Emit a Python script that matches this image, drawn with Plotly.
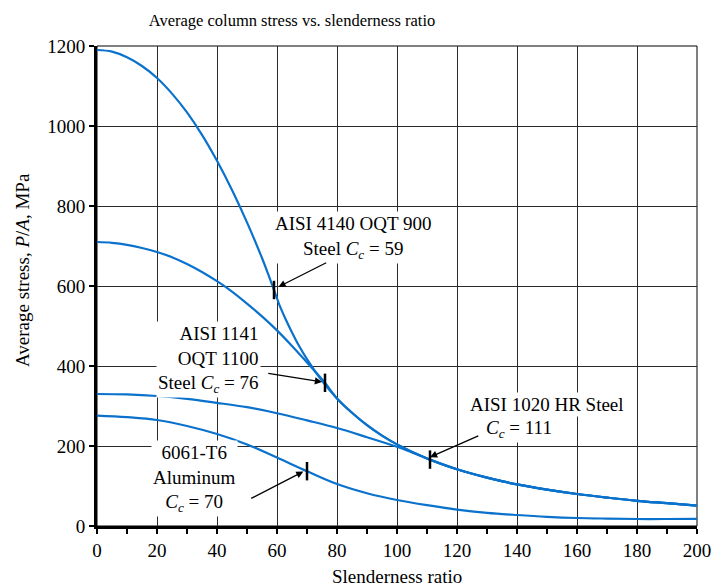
import plotly.graph_objects as go

# ---- data ----
slenderness_4140 = [0, 5, 10, 15, 20, 25, 30, 35, 40, 45, 50, 55, 57, 59, 61, 63, 65, 67, 70, 75, 80, 85,
                    90, 95, 100, 110, 120, 130, 140, 150, 160, 170, 180, 190, 200]
stress_4140 = [1190, 1186, 1172, 1150, 1120, 1081, 1034, 978, 913, 840, 759, 670, 631, 590, 549, 515,
               484, 455, 417, 363, 319, 283, 252, 226, 204, 169, 142, 121, 104, 91, 80, 71, 63, 57, 51]

slenderness_1141 = [0, 5, 10, 15, 20, 25, 30, 35, 40, 45, 50, 55, 60, 65, 70, 73, 76, 80, 85, 90, 95, 100,
                    110, 120, 130, 140, 150, 160, 170, 180, 190, 200]
stress_1141 = [710, 708, 703, 695, 685, 672, 655, 635, 612, 586, 556, 524, 489, 450, 409, 384, 358, 319,
               283, 252, 226, 204, 169, 142, 121, 104, 91, 80, 71, 63, 57, 51]

slenderness_1020 = [0, 10, 20, 30, 40, 50, 60, 70, 80, 90, 100, 105, 111,
                    120, 130, 140, 150, 160, 170, 180, 190, 200]
stress_1020 = [330, 329, 325, 318, 308, 297, 282, 264, 245, 222, 198, 184, 166,
               142, 121, 104, 91, 80, 71, 63, 57, 51]

slenderness_6061 = [0, 10, 20, 30, 40, 50, 60, 70, 80, 90, 100, 110, 120, 130, 140, 150,
                    160, 170, 180, 190, 200]
stress_6061 = [276, 272, 265, 250, 230, 204, 171, 137, 105, 82, 65, 52, 41, 33, 27.5, 23,
               20, 18.5, 17.5, 17.5, 18]

cc_values = [59, 76, 111, 70]
cc_stress = [590, 358, 166, 137]

x_ticks = [0, 20, 40, 60, 80, 100, 120, 140, 160, 180, 200]
y_ticks = [0, 200, 400, 600, 800, 1000, 1200]

BLUE = "#0a72cc"
FONT = "Liberation Serif"

fig = go.Figure()
for xs, ys in [(slenderness_4140, stress_4140), (slenderness_1141, stress_1141),
               (slenderness_1020, stress_1020), (slenderness_6061, stress_6061)]:
    fig.add_trace(go.Scatter(x=xs, y=ys, mode="lines",
                             line=dict(color=BLUE, width=2.2, shape="spline", smoothing=1.0),
                             hoverinfo="skip"))

# Cc tick marks on the curves
for cx, cy in zip(cc_values, cc_stress):
    fig.add_shape(type="line", xref="x", yref="y", x0=cx, x1=cx, y0=cy - 23, y1=cy + 23,
                  line=dict(color="black", width=2.5), layer="above")

# thin top/right frame
fig.add_shape(type="rect", xref="paper", yref="paper", x0=0, x1=1, y0=0, y1=1,
              line=dict(color="black", width=1), layer="below")

ann_font = dict(family=FONT, size=19, color="black")
labels = [
    dict(x=85.4, y=722, text="AISI 4140 OQT 900<br>Steel <i>C<sub>c</sub></i> = 59",
         xanchor="center", yanchor="middle", align="center"),
    dict(x=54.5, y=417, text="AISI 1141<br>OQT 1100<br>Steel <i>C<sub>c</sub></i> = 76",
         xanchor="right", yanchor="middle", align="right"),
    dict(x=150, y=305, text="AISI 1020 HR Steel", xanchor="center", yanchor="middle", align="center"),
    dict(x=140.6, y=242, text="<i>C<sub>c</sub></i> = 111", xanchor="center", yanchor="middle", align="center"),
    dict(x=32.4, y=118, text="6061-T6<br>Aluminum<br><i>C<sub>c</sub></i> = 70",
         xanchor="center", yanchor="middle", align="center"),
]
for lab in labels:
    fig.add_annotation(xref="x", yref="y", showarrow=False, font=ann_font,
                       bgcolor="white", borderpad=1, **lab)

arrows = [
    ((60.5, 598), (76.9, 660)),
    ((75.0, 360), (56.6, 382)),
    ((111.0, 172), (127.6, 227)),
    ((68.8, 136), (50.9, 67)),
]
for (hx, hy), (tx, ty) in arrows:
    fig.add_annotation(x=hx, y=hy, ax=tx, ay=ty, xref="x", yref="y", axref="x", ayref="y",
                       text="", showarrow=True, arrowhead=2, arrowsize=1.1, arrowwidth=1.3,
                       arrowcolor="black", standoff=0, startstandoff=0)

# axis titles
fig.add_annotation(xref="paper", yref="paper", x=(397 - 97) / 600, y=(526 - 576) / 480,
                   text="Slenderness ratio", showarrow=False, font=ann_font,
                   xanchor="center", yanchor="middle")
fig.add_annotation(xref="paper", yref="paper", x=(22 - 97) / 600, y=(526 - 270) / 480,
                   text="Average stress, <i>P</i>/<i>A</i>, MPa", showarrow=False, font=ann_font,
                   textangle=-90, xanchor="center", yanchor="middle")

axis_common = dict(showgrid=True, gridcolor="#2a2a2a", gridwidth=1, showline=True,
                   linecolor="black", linewidth=3, ticks="outside", ticklen=5, tickwidth=2,
                   tickcolor="black", zeroline=False, mirror=False, automargin=False,
                   tickfont=dict(family=FONT, size=19, color="black"))

fig.update_xaxes(range=[0, 200], tickvals=x_ticks,
                 minor=dict(dtick=10, tick0=0, ticks="outside", ticklen=5, tickwidth=2,
                            tickcolor="black", showgrid=False),
                 **axis_common)
fig.update_yaxes(range=[0, 1200], tickvals=y_ticks, **axis_common)

fig.update_layout(
    width=712, height=588,
    margin=dict(l=97, r=15, t=46, b=62, autoexpand=False),
    plot_bgcolor="white", paper_bgcolor="white",
    showlegend=False,
    font=dict(family=FONT, color="black"),
    title=dict(text="Average column stress vs. slenderness ratio",
               font=dict(family=FONT, size=16.5, color="black"),
               x=292 / 712, xanchor="center", xref="container",
               y=1 - 20 / 588, yanchor="middle", yref="container"),
)

fig.write_html("out.html", config={"displayModeBar": False},
               post_script="document.body.style.margin='0';")
